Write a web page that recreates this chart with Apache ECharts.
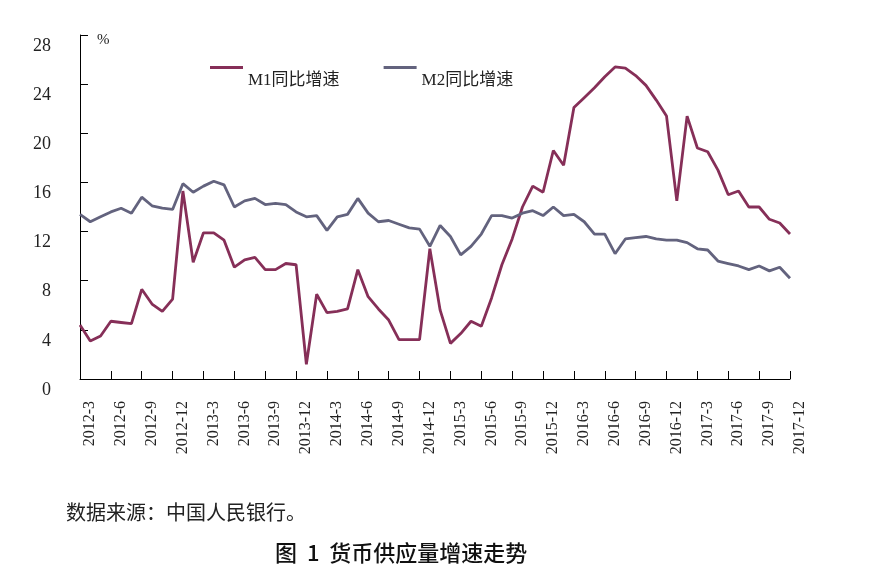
<!DOCTYPE html>
<html>
<head>
<meta charset="utf-8">
<script src="https://cdn.jsdelivr.net/npm/echarts@6/dist/echarts.min.js"></script>
<style>
html,body{margin:0;padding:0;background:#fff;}
#c{width:880px;height:579px;}
</style>
</head>
<body>
<div id="c"></div>
<script>
var categories = [
  '2012-3','2012-4','2012-5','2012-6','2012-7','2012-8','2012-9','2012-10','2012-11','2012-12',
  '2013-1','2013-2','2013-3','2013-4','2013-5','2013-6','2013-7','2013-8','2013-9','2013-10','2013-11','2013-12',
  '2014-1','2014-2','2014-3','2014-4','2014-5','2014-6','2014-7','2014-8','2014-9','2014-10','2014-11','2014-12',
  '2015-1','2015-2','2015-3','2015-4','2015-5','2015-6','2015-7','2015-8','2015-9','2015-10','2015-11','2015-12',
  '2016-1','2016-2','2016-3','2016-4','2016-5','2016-6','2016-7','2016-8','2016-9','2016-10','2016-11','2016-12',
  '2017-1','2017-2','2017-3','2017-4','2017-5','2017-6','2017-7','2017-8','2017-9','2017-10','2017-11','2017-12'
];
var m1 = [
  4.4, 3.1, 3.5, 4.7, 4.6, 4.5, 7.3, 6.1, 5.5, 6.5,
  15.3, 9.5, 11.9, 11.9, 11.3, 9.1, 9.7, 9.9, 8.9, 8.9, 9.4, 9.3,
  1.2, 6.9, 5.4, 5.5, 5.7, 8.9, 6.7, 5.7, 4.8, 3.2, 3.2, 3.2,
  10.6, 5.6, 2.9, 3.7, 4.7, 4.3, 6.6, 9.3, 11.4, 14.0, 15.7, 15.2,
  18.6, 17.4, 22.1, 22.9, 23.7, 24.6, 25.4, 25.3, 24.7, 23.9, 22.7, 21.4,
  14.5, 21.4, 18.8, 18.5, 17.0, 15.0, 15.3, 14.0, 14.0, 13.0, 12.7, 11.8
];
var m2 = [
  13.4, 12.8, 13.2, 13.6, 13.9, 13.5, 14.8, 14.1, 13.9, 13.8,
  15.9, 15.2, 15.7, 16.1, 15.8, 14.0, 14.5, 14.7, 14.2, 14.3, 14.2, 13.6,
  13.2, 13.3, 12.1, 13.2, 13.4, 14.7, 13.5, 12.8, 12.9, 12.6, 12.3, 12.2,
  10.8, 12.5, 11.6, 10.1, 10.8, 11.8, 13.3, 13.3, 13.1, 13.5, 13.7, 13.3,
  14.0, 13.3, 13.4, 12.8, 11.8, 11.8, 10.2, 11.4, 11.5, 11.6, 11.4, 11.3,
  11.3, 11.1, 10.6, 10.5, 9.6, 9.4, 9.2, 8.9, 9.2, 8.8, 9.1, 8.2
];
var seriesNames = ['M1同比增速', 'M2同比增速'];
var sourceText = '数据来源：中国人民银行。';
var figureTitle = '图  1  货币供应量增速走势';

var serif = "'Liberation Serif', 'Noto Sans CJK SC', serif";
// legend key: a 3px bar at the top of a taller (invisible) box so the name sits below it
var legendIcon = 'path://M0,0L33,0L33,3L0,3Z M0,29.95L0.02,29.95L0.02,30L0,30Z';

var chart = echarts.init(document.getElementById('c'), null, {renderer: 'canvas'});
chart.setOption({
  backgroundColor: '#ffffff',
  animation: false,
  title: [
    {text: sourceText, left: 66, top: 502, padding: 0,
     textStyle: {fontFamily: "'Noto Sans CJK SC'", fontSize: 20, fontWeight: 'normal', color: '#222'}},
    {text: figureTitle, left: 275, top: 542, padding: 0,
     textStyle: {fontFamily: "'Noto Sans CJK SC'", fontSize: 22, fontWeight: 500, color: '#111'}}
  ],
  legend: {
    left: 210, top: 66, padding: 0,
    itemWidth: 33, itemHeight: 30, itemGap: 44,
    icon: legendIcon,
    textStyle: {fontFamily: serif, fontSize: 17, color: '#222'},
    data: seriesNames
  },
  grid: {left: 80, right: 90, top: 35, bottom: 200, containLabel: false},
  xAxis: {
    type: 'category',
    data: categories,
    boundaryGap: false,
    axisLine: {lineStyle: {color: '#000', width: 1}},
    axisTick: {inside: true, length: 8, interval: 2, lineStyle: {color: '#000'}},
    axisLabel: {interval: 2, rotate: 90, margin: 22, fontFamily: serif, fontSize: 16, color: '#222',
                verticalAlign: 'top', lineHeight: 20},
    splitLine: {show: false}
  },
  yAxis: {
    type: 'value',
    min: 0, max: 28, interval: 4,
    name: '%',
    nameLocation: 'end',
    nameGap: -13,
    nameTextStyle: {fontFamily: serif, fontSize: 15, color: '#222', align: 'left', verticalAlign: 'bottom', padding: [0, 0, 0, 17]},
    axisLine: {show: true, lineStyle: {color: '#000', width: 1}},
    axisTick: {show: true, inside: true, length: 8, lineStyle: {color: '#000'}},
    axisLabel: {margin: 29, fontFamily: serif, fontSize: 18, color: '#222', verticalAlign: 'top', lineHeight: 22},
    splitLine: {show: false}
  },
  series: [
    {name: seriesNames[0], type: 'line', data: m1, symbol: 'none', color: '#862f58',
     lineStyle: {width: 2.8, color: '#862f58'}},
    {name: seriesNames[1], type: 'line', data: m2, symbol: 'none', color: '#63637e',
     lineStyle: {width: 2.8, color: '#63637e'}}
  ]
});
</script>
</body>
</html>
